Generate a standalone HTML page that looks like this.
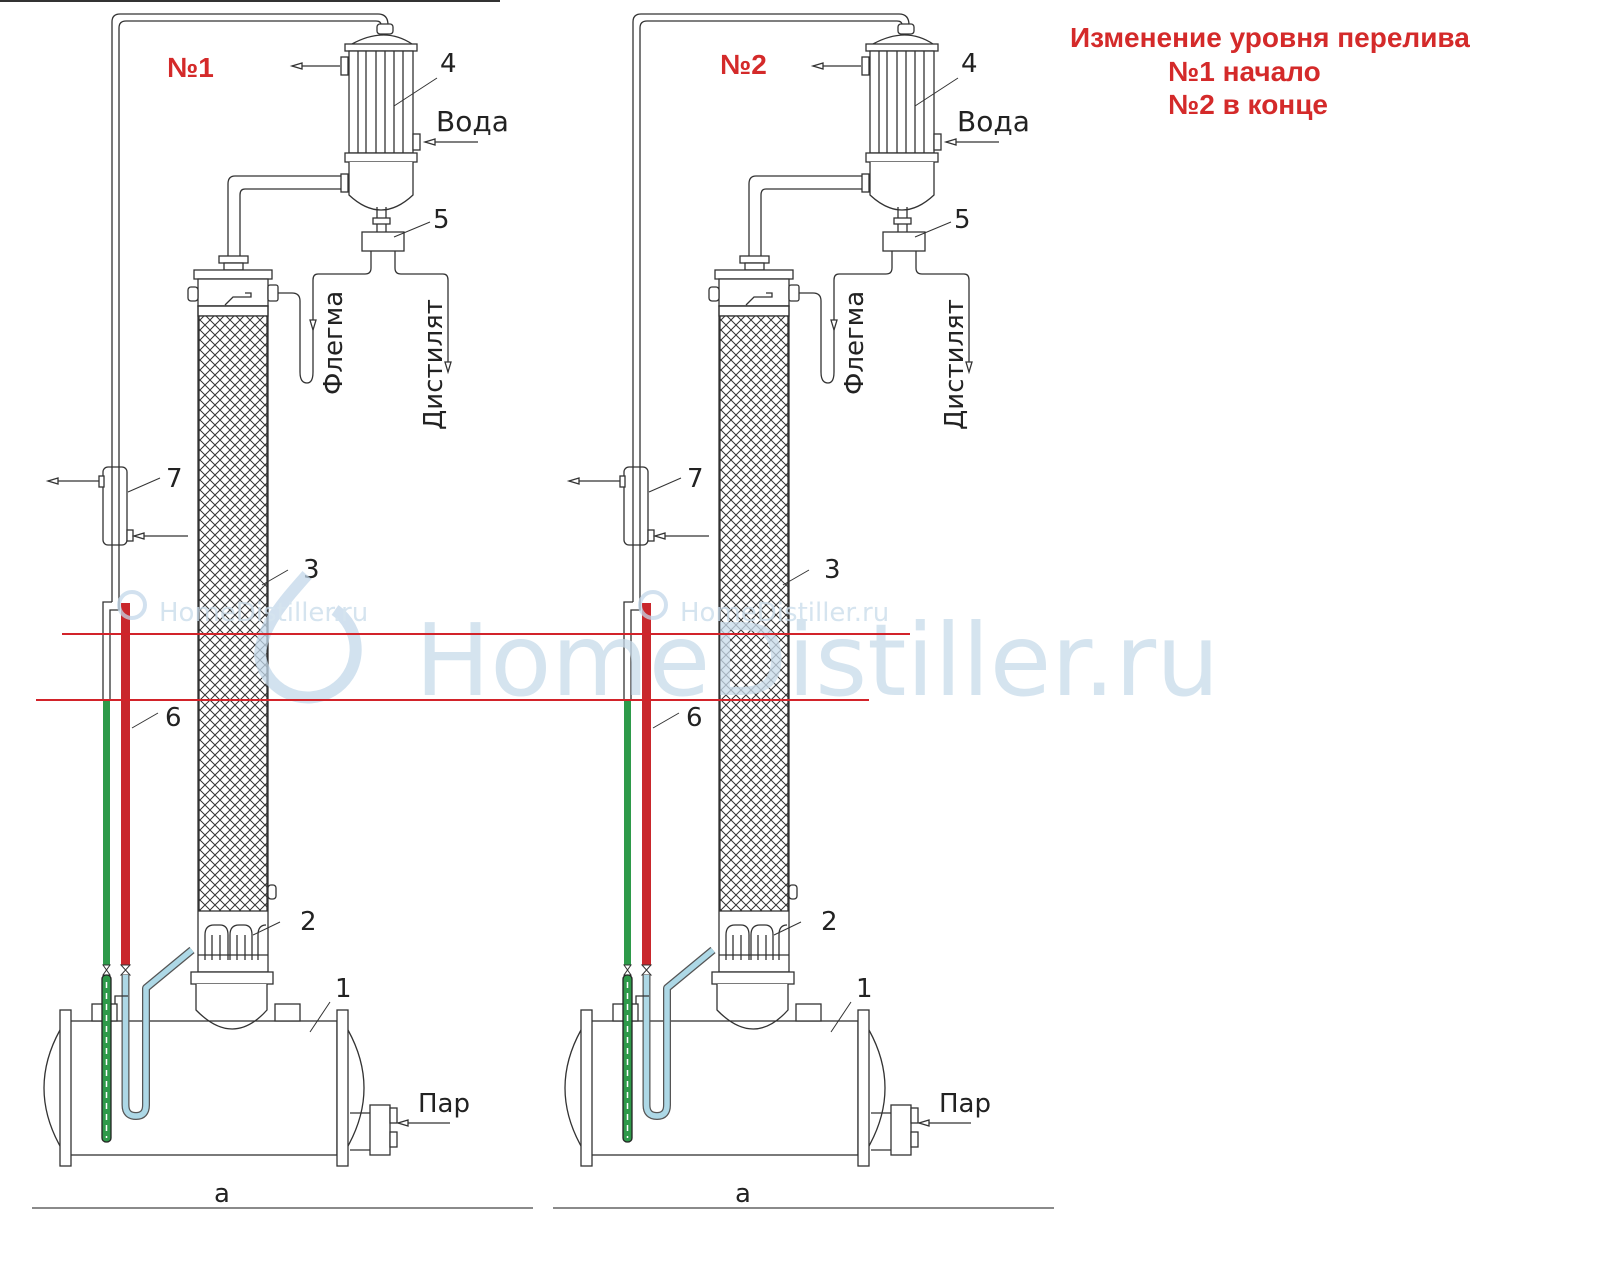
<!DOCTYPE html>
<html><head><meta charset="utf-8"><style>
html,body{margin:0;padding:0;background:#fff}
svg{display:block}
</style></head><body>
<svg width="1600" height="1276" viewBox="0 0 1600 1276" xmlns="http://www.w3.org/2000/svg">
<defs>
<pattern id="hatch" width="10" height="10" patternUnits="userSpaceOnUse">
<rect width="10" height="10" fill="#fff"/>
<path d="M0,0 L10,10 M10,0 L0,10" stroke="#333" stroke-width="1"/>
</pattern>
<g id="d" fill="none" stroke="#333" stroke-width="1.3">
<path d="M112,602 V22 Q112,14 120,14 H378 Q388,14 388,25" />
<path d="M119,602 V28 Q119,21 126,21 H376 Q381,21 381,25" />
<rect x="377" y="24" width="16" height="10" rx="3" fill="#fff"/>
<path d="M352,44 Q385,26 412,44" />
<rect x="345" y="44" width="72" height="7" fill="#fff"/>
<rect x="349" y="51" width="64" height="102" fill="#fff"/>
<path d="M358,51V153 M366,51V153 M376,51V153 M385,51V153 M394,51V153 M403,51V153"/>
<rect x="345" y="153" width="72" height="9" fill="#fff"/>
<path d="M349,162 V195 Q381,225 413,195 V162" fill="#fff"/>
<rect x="341" y="57" width="7" height="18" fill="#fff"/>
<path d="M340,66 H292" /><path d="M292,66 l10,-3 v6 z" fill="#fff"/>
<rect x="413" y="134" width="7" height="16" fill="#fff"/>
<path d="M478,142 H425"/><path d="M425,142 l10,-3 v6 z" fill="#fff"/>
<path d="M377,207 V222 M386,207 V222"/>
<rect x="373" y="218" width="17" height="6" fill="#fff"/>
<rect x="362" y="232" width="42" height="19" fill="#fff"/>
<path d="M377,224V232 M386,224V232"/>
<path d="M342,176 H235 Q228,176 228,184 V258" />
<path d="M342,189 H245 Q240,189 240,195 V258" />
<rect x="341" y="174" width="7" height="18" fill="#fff"/>
<rect x="219" y="256" width="29" height="7" fill="#fff"/>
<rect x="224" y="263" width="19" height="7" fill="#fff"/>
<path d="M371,251 V268 Q371,274 365,274 H318 Q313,274 313,280 V330"/>
<path d="M313,330 l-3,-10 h6 z" fill="#fff"/>
<path d="M395,251 V268 Q395,274 401,274 H443 Q448,274 448,280 V372"/>
<path d="M448,372 l-3,-10 h6 z" fill="#fff"/>
<path d="M278,293 H292 Q300,293 300,301 V372 Q300,383 307,383 Q313,383 313,372 V330"/>
<rect x="194" y="270" width="78" height="9" fill="#fff"/>
<rect x="198" y="279" width="70" height="27" fill="#fff"/>
<path d="M225,305 L233,297 H251 V293 H245"/>
<rect x="188" y="287" width="10" height="14" rx="3" fill="#fff"/>
<rect x="268" y="285" width="10" height="16" rx="2" fill="#fff"/>
<rect x="198" y="306" width="70" height="10" fill="#fff"/>
<rect x="199" y="316" width="68" height="595" fill="url(#hatch)"/>
<rect x="198" y="306" width="70" height="666"/>
<rect x="268" y="885" width="8" height="14" rx="3" fill="#fff"/>
<path d="M205,960 V935 Q205,925 214,925 H220 Q228,925 228,935 V960 M230,960 V935 Q230,925 239,925 H244 Q252,925 252,935 V960 M212,960 V935 M220,960V935 M237,960 V935 M245,960V935 M258,960 V935 Q258,925 266,925"/>
<path d="M198,955 H268"/>
<rect x="191" y="972" width="82" height="12" fill="#fff"/>
<path d="M196,984 V1010 Q233,1048 267,1010 V984" fill="#fff"/>
<rect x="70" y="1021" width="267" height="134" fill="none"/>
<rect x="60" y="1010" width="11" height="156" fill="#fff"/>
<rect x="337" y="1010" width="11" height="156" fill="#fff"/>
<path d="M60,1030 Q28,1088 60,1146"/>
<path d="M348,1030 Q380,1088 348,1146"/>
<rect x="92" y="1004" width="25" height="17" fill="#fff"/>
<rect x="275" y="1004" width="25" height="17" fill="#fff"/>
<rect x="370" y="1105" width="20" height="50" fill="#fff"/>
<rect x="390" y="1108" width="7" height="15" fill="#fff"/>
<rect x="390" y="1132" width="7" height="15" fill="#fff"/>
<path d="M350,1113 H370 M350,1150 H370"/>
<path d="M450,1123 H398"/><path d="M398,1123 l10,-3 v6 z" fill="#fff"/>
<path d="M32,1208 H533" stroke="#444"/>
<rect x="103" y="467" width="24" height="78" rx="5" fill="#fff"/>
<path d="M112,467 V545 M119,467 V545"/>
<rect x="99" y="476" width="5" height="11" fill="#fff"/>
<path d="M99,481 H48"/><path d="M48,481 l10,-3 v6 z" fill="#fff"/>
<rect x="127" y="530" width="6" height="11" fill="#fff"/>
<path d="M188,536 H134"/><path d="M134,536 l10,-3 v6 z" fill="#fff"/>
<path d="M112,602 H103 V700 M110,700 V610 H119 V602"/>
<rect x="121" y="603" width="9" height="362" fill="#c9272c" stroke="none"/>
<rect x="103" y="700" width="7" height="265" fill="#2e9a4a" stroke="none"/>
<path d="M103,965 l7,10 h-7 l7,-10 z M121,965 l9,10 h-9 l9,-10 z" stroke-width="1"/>
<rect x="102" y="975" width="9" height="167" rx="4" fill="#2e9a4a" stroke="#222"/>
<path d="M106.5,982 V1138" stroke="#fff" stroke-dasharray="6,5" stroke-width="1.5"/>
<path d="M125.5,975 V1105 Q125.5,1116 136,1116 Q146,1116 146,1105 V988 L192,950" stroke="#555" stroke-width="8" stroke-linejoin="round"/>
<path d="M125.5,975 V1105 Q125.5,1116 136,1116 Q146,1116 146,1105 V988 L192,950" stroke="#add8e6" stroke-width="5.5" stroke-linejoin="round"/>
<path d="M115,1004 V996 H128"/>
<path d="M394,106 L437,78 M394,237 L430,222 M128,492 L160,478 M262,585 L288,570 M132,728 L158,713 M253,935 L280,922 M310,1032 L330,1002" stroke-width="1"/>
</g>
<g id="t" fill="#222" style="font-family:'DejaVu Sans','Liberation Sans',sans-serif">
<text x="440" y="72" font-size="26">4</text>
<text x="436" y="131" font-size="28">Вода</text>
<text x="433" y="228" font-size="26">5</text>
<text x="166" y="487" font-size="26">7</text>
<text x="303" y="578" font-size="26">3</text>
<text x="165" y="726" font-size="26">6</text>
<text x="300" y="930" font-size="26">2</text>
<text x="335" y="997" font-size="26">1</text>
<text x="418" y="1112" font-size="26">Пар</text>
<text x="214" y="1202" font-size="26">а</text>
<text transform="translate(342,395) rotate(-90)" font-size="26">Флегма</text>
<text transform="translate(442,430) rotate(-90)" font-size="26">Дистилят</text>
</g>
</defs>

<path d="M0,1 H500" stroke="#333" stroke-width="2"/>
<use href="#d"/><use href="#t"/>
<g transform="translate(521,0)"><use href="#d"/><use href="#t"/></g>

<g opacity="0.75" style="font-family:'DejaVu Sans',sans-serif">
<path d="M307,575 C285,600 262,625 260,655 A48,48 0 1 0 335,610" fill="none" stroke="#c3d8ea" stroke-width="12"/>
<text x="415" y="695" font-size="100" fill="#c8dbea">HomeDistiller.ru</text>
<text x="159" y="621" font-size="26" fill="#c8dbea">HomeDistiller.ru</text>
<text x="680" y="621" font-size="26" fill="#c8dbea">HomeDistiller.ru</text>
<circle cx="132" cy="605" r="13" fill="none" stroke="#c3d8ea" stroke-width="4"/>
<circle cx="653" cy="605" r="13" fill="none" stroke="#c3d8ea" stroke-width="4"/>
</g>

<path d="M62,634 H910" stroke="#d2232a" stroke-width="2"/>
<path d="M36,700 H869" stroke="#d2232a" stroke-width="2"/>

<g fill="#d42a2a" style="font-family:'Liberation Sans',Arial,sans-serif;font-weight:bold;font-size:28px">
<text x="167" y="77">№1</text>
<text x="720" y="74">№2</text>
<text x="1070" y="47">Изменение уровня перелива</text>
<text x="1168" y="81">№1 начало</text>
<text x="1168" y="114">№2  в конце</text>
</g>
</svg>
</body></html>
